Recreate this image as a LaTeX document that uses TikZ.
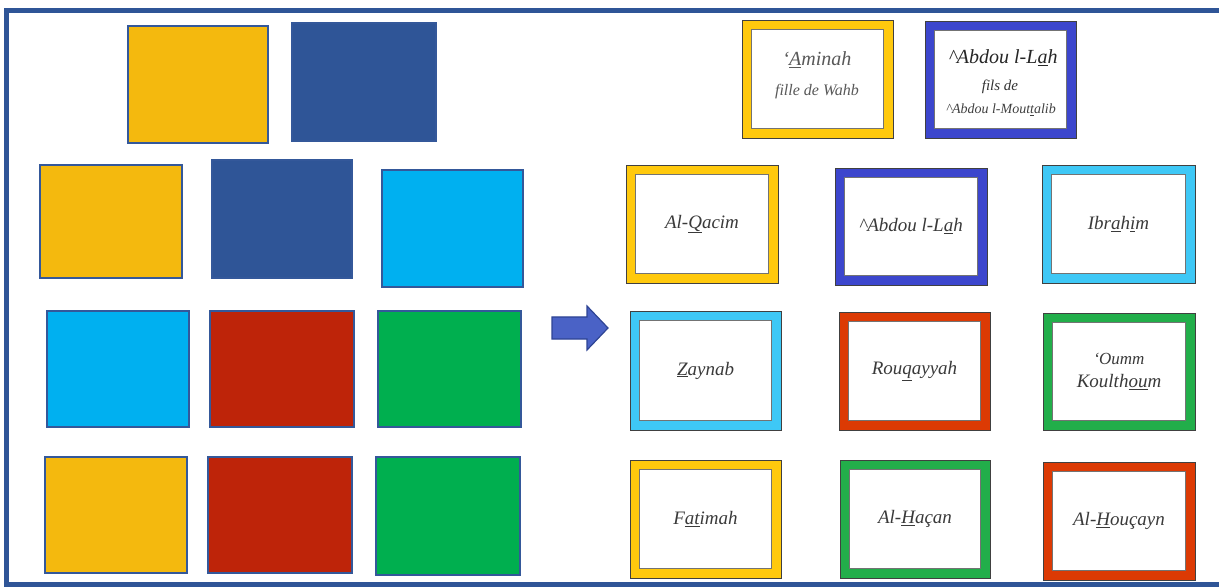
\documentclass[tikz,border=0pt]{standalone}
\usepackage{fontspec}
\setmainfont{Liberation Serif}
\definecolor{sqyellow}{HTML}{F4B90E}
\definecolor{sqdblue}{HTML}{2F5597}
\definecolor{sqlblue}{HTML}{00B0F0}
\definecolor{sqred}{HTML}{BE2409}
\definecolor{sqgreen}{HTML}{00AF4F}
\definecolor{sqline}{HTML}{34589A}
\definecolor{cyellow}{HTML}{FFC90D}
\definecolor{cblue}{HTML}{3C46CD}
\definecolor{clblue}{HTML}{3EC8F6}
\definecolor{cred}{HTML}{DC3A04}
\definecolor{cgreen}{HTML}{22AE4A}
\definecolor{frameblue}{HTML}{2F5597}
\definecolor{arrowfill}{HTML}{4A62C6}
\definecolor{arrowline}{HTML}{2E4494}
\definecolor{txtgray}{HTML}{3A3A3A}
\newcommand\mysq[6]{%
  \node[sqbox, fill=#6, minimum width={#4-#2}, minimum height={#5-#3}]
    (#1) at ({(#2+#4)/2},{(#3+#5)/2}) {};}
\newcommand\mycard[7]{%
  \node[cardout, fill=#6, minimum width={#4-#2}, minimum height={#5-#3}]
    (#1) at ({(#2+#4)/2},{(#3+#5)/2}) {};
  \node[cardin, minimum width={#4-#2-19}, minimum height={#5-#3-19}]
    (#1-in) at (#1.center) {#7};}
\tikzset{
  sqbox/.style={draw=sqline, line width=1.6pt, inner sep=0pt},
  cardout/.style={draw=black!75, line width=0.9pt, inner sep=0pt},
  cardin/.style={draw=black!55, line width=1.3pt, fill=white, inner sep=0pt,
    align=center, text=txtgray, font=\itshape\fontsize{19}{23}\selectfont},
  txt/.style={inner sep=0pt, text=black!65, font=\itshape\fontsize{#1}{#1}\selectfont},
}
\begin{document}
\begin{tikzpicture}[x=1pt,y=-1pt]
\useasboundingbox (0,0) rectangle (1219,588);
% outer frame
\draw[frameblue, line width=5pt] (1219,11) -- (6.5,11) -- (6.5,584) -- (1219,584);
% left squares
\mysq{s11}{128}{26}{268}{143}{sqyellow}
\mysq{s12}{292}{23}{436}{141}{sqdblue}
\mysq{s21}{40}{165}{182}{278}{sqyellow}
\mysq{s22}{212}{160}{352}{278}{sqdblue}
\mysq{s23}{382}{170}{523}{287}{sqlblue}
\mysq{s31}{47}{311}{189}{427}{sqlblue}
\mysq{s32}{210}{311}{354}{427}{sqred}
\mysq{s33}{378}{311}{521}{427}{sqgreen}
\mysq{s41}{45}{457}{187}{573}{sqyellow}
\mysq{s42}{208}{457}{352}{573}{sqred}
\mysq{s43}{376}{457}{520}{575}{sqgreen}
% arrow
\filldraw[fill=arrowfill, draw=arrowline, line width=1.2pt, line join=miter]
  (552,317) -- (587,317) -- (587,306) -- (608,328) -- (587,350) -- (587,339) -- (552,339) -- cycle;
% top cards
\mycard{a1}{742}{20}{893}{138}{cyellow}{}
\mycard{a2}{925}{21}{1076}{138}{cblue}{}
\node[txt=20] (a1l1) at (817,60) {‘\underline{A}minah};
\node[txt=16] (a1l2) at (817,92) {fille de Wahb};
\node[txt=20, text=black!85] (a2l1) at (1003,58) {\textasciicircum Abdou l-L\underline{a}h};
\node[txt=15, text=black!80] (a2l2) at (1000,87) {fils de};
\node[txt=14, text=black!75] (a2l3) at (1001,110) {\textasciicircum Abdou l-Mout\underline{t}alib};
% rows of cards
\mycard{b1}{626}{165}{778}{283}{cyellow}{Al-\underline{Q}acim}
\mycard{b2}{835}{168}{987}{285}{cblue}{\textasciicircum Abdou l-L\underline{a}h}
\mycard{b3}{1042}{165}{1195}{283}{clblue}{Ibr\underline{a}h\underline{i}m}
\mycard{c1}{630}{311}{781}{430}{clblue}{\underline{Z}aynab}
\mycard{c2}{839}{312}{990}{430}{cred}{Rou\underline{q}ayyah}
\mycard{c3}{1043}{313}{1195}{430}{cgreen}{\fontsize{17}{31}\selectfont ‘Oumm\\Koulth\underline{ou}m}
\mycard{d1}{630}{460}{781}{578}{cyellow}{F\underline{at}imah}
\mycard{d2}{840}{460}{990}{578}{cgreen}{Al-\underline{H}açan}
\mycard{d3}{1043}{462}{1195}{580}{cred}{Al-\underline{H}ouçayn}
\end{tikzpicture}
\end{document}
